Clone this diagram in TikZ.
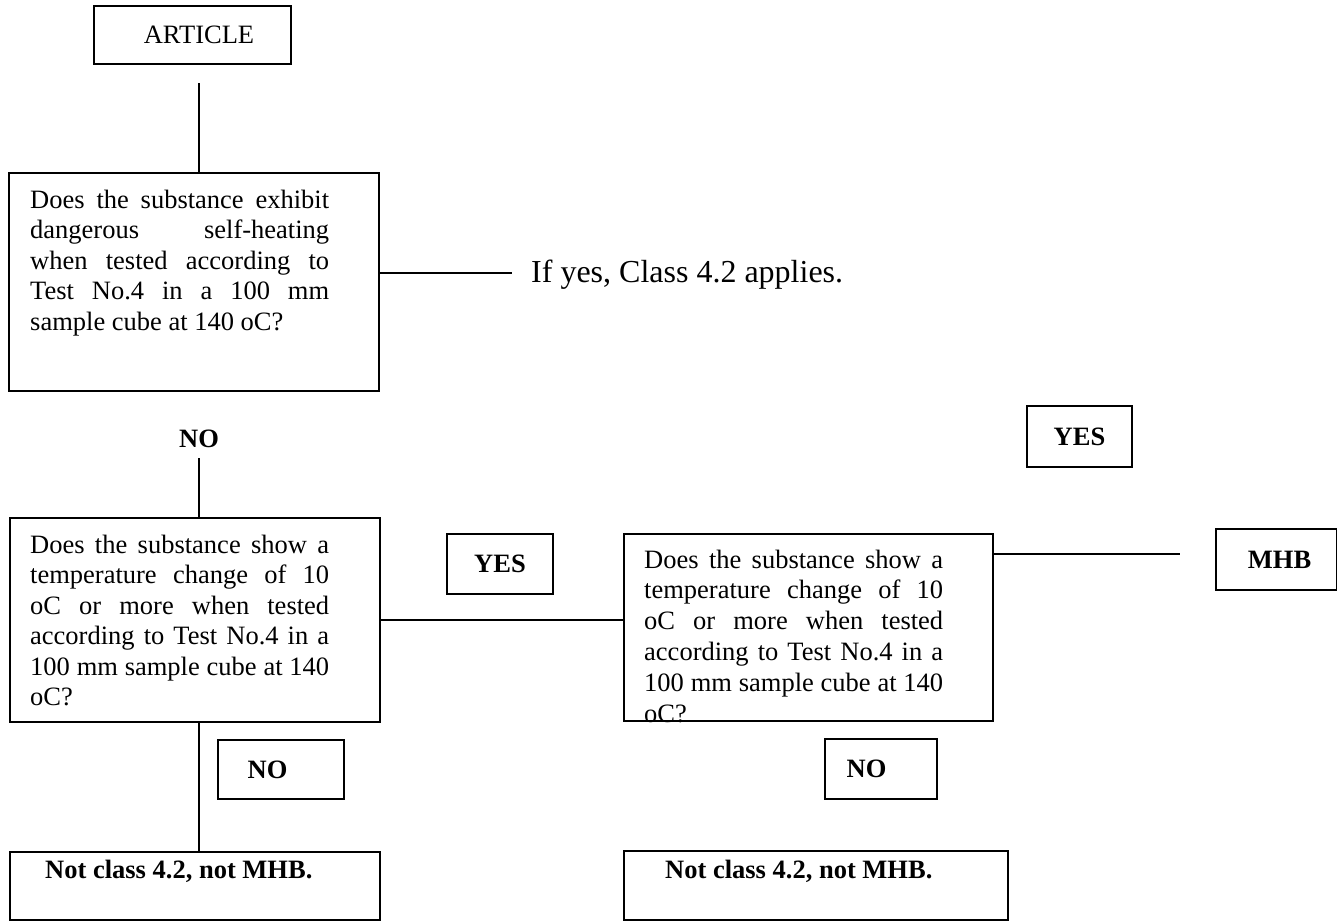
\documentclass[tikz,border=0pt]{standalone}
\usepackage{fontspec}
\setmainfont{Liberation Serif}
\begin{document}
\begin{tikzpicture}[x=1pt,y=-1pt,
rbox/.style={draw,line width=2.2pt,inner sep=0pt},
lbl/.style={rbox,font=\fontsize{26.5pt}{30.5pt}\selectfont\bfseries},
qtext/.style={text width=299pt,align=justify,inner sep=0pt,font=\fontsize{26.5pt}{30.5pt}\selectfont},
btext/.style={inner sep=0pt,font=\fontsize{26.5pt}{30.5pt}\selectfont\bfseries},
link/.style={line width=1.8pt}]
\useasboundingbox (0,0) rectangle (1337,921);
\node[rbox,minimum width=197pt,minimum height=58pt,font=\fontsize{26.5pt}{30.5pt}\selectfont] (art) at (192.5,35) {\hspace*{13pt}ARTICLE};
\node[rbox,minimum width=370pt,minimum height=218pt] (q1) at (194,282) {};
\node[qtext,anchor=base west] (q1t) at (30,208) {Does the substance exhibit\linebreak dangerous self-heating\linebreak when tested according to\linebreak Test No.4 in a 100 mm\linebreak sample cube at 140 oC?};
\node[font=\fontsize{32pt}{36pt}\selectfont,inner sep=0pt,anchor=base west] (ifyes) at (531,282) {If yes, Class 4.2 applies.};
\coordinate (artend) at (199,83);
\coordinate (ifyesend) at (512,273);
\draw[link] (artend) -- (artend |- q1.north);
\draw[link] (q1.east |- ifyesend) -- (ifyesend);
\node[btext,anchor=base] (no0) at (199,447) {NO};
\coordinate (no0end) at (199,458);
\node[rbox,minimum width=370pt,minimum height=204pt] (q2) at (195,620) {};
\node[qtext,anchor=base west] (q2t) at (30,553) {Does the substance show a\linebreak temperature change of 10\linebreak oC or more when tested\linebreak according to Test No.4 in a\linebreak 100 mm sample cube at 140\linebreak oC?};
\draw[link] (no0end) -- (no0end |- q2.north);
\node[lbl,minimum width=106pt,minimum height=60pt] (yes1) at (500,564) {YES};
\node[rbox,minimum width=369pt,minimum height=187pt] (q3) at (808.5,627.5) {};
\begin{scope}
\clip (q3.north west) rectangle (q3.south east);
\node[qtext,anchor=base west,font=\fontsize{26.5pt}{30.8pt}\selectfont] (q3t) at (644,568) {Does the substance show a\linebreak temperature change of 10\linebreak oC or more when tested\linebreak according to Test No.4 in a\linebreak 100 mm sample cube at 140\linebreak oC?};
\end{scope}
\draw[link] (q2.east) -- (q2.east -| q3.west);
\node[lbl,minimum width=105pt,minimum height=61pt] (yes2) at (1079.5,436.5) {YES};
\node[lbl,minimum width=121pt,minimum height=61pt] (mhb) at (1276.5,559.5) {\hspace*{6pt}MHB};
\coordinate (mhbend) at (1180,554);
\draw[link] (q3.east |- mhbend) -- (mhbend);
\node[lbl,minimum width=126pt,minimum height=59pt] (no1) at (281,769.5) {NO\hspace*{27pt}};
\node[lbl,minimum width=112pt,minimum height=60pt] (no2) at (881,769) {NO\hspace*{29pt}};
\node[rbox,minimum width=370pt,minimum height=68pt] (nc1) at (195,886) {};
\node[btext,anchor=base west] (nc1t) at (45,878) {Not class 4.2, not MHB.};
\node[rbox,minimum width=384pt,minimum height=69pt] (nc2) at (816,885.5) {};
\node[btext,anchor=base west] (nc2t) at (665,878) {Not class 4.2, not MHB.};
\draw[link] (no0end |- q2.south) -- (no0end |- nc1.north);
\end{tikzpicture}
\end{document}
